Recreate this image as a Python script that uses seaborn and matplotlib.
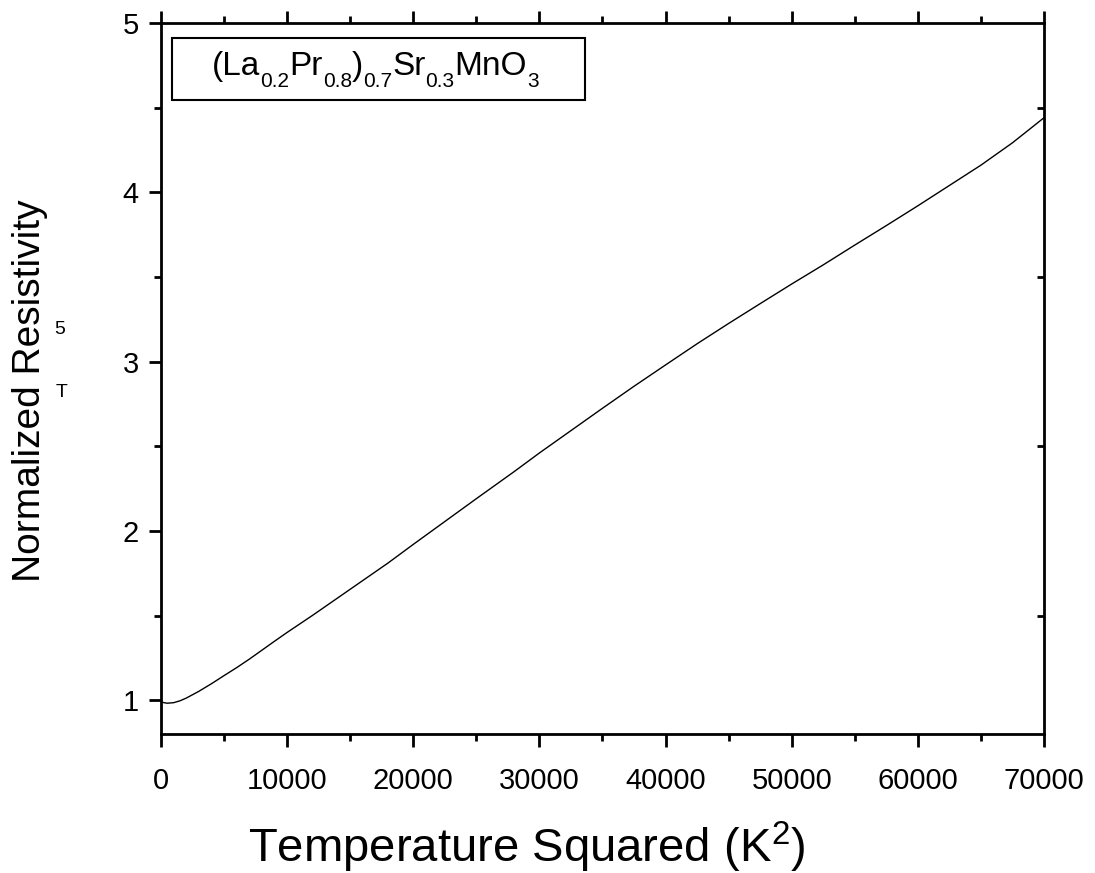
import numpy as np
import pandas as pd
import matplotlib
matplotlib.use("Agg")
import matplotlib.pyplot as plt
from matplotlib.patches import Rectangle
from matplotlib.ticker import MultipleLocator
import seaborn as sns

# Temperature squared (K^2) and normalized resistivity
temp_sq = [0, 250, 500, 1000, 1500, 2000, 3000, 4000, 5000, 6000, 7000, 8000,
           9000, 10000, 12000, 15000, 18000, 20000, 22500, 25000, 28000, 30000,
           32500, 35000, 37500, 40000, 42500, 45000, 47500, 50000, 52500,
           55000, 57500, 60000, 62500, 65000, 67500, 70000]
resistivity = [0.990, 0.985, 0.982, 0.985, 0.996, 1.012, 1.052, 1.097, 1.145,
               1.192, 1.242, 1.295, 1.348, 1.400, 1.500, 1.655, 1.810, 1.920,
               2.055, 2.190, 2.350, 2.460, 2.592, 2.724, 2.854, 2.980, 3.105,
               3.225, 3.342, 3.458, 3.571, 3.688, 3.803, 3.920, 4.040, 4.160,
               4.292, 4.440]

# sample formula split into regular and subscript pieces
formula_main = ["(La", "Pr", ")", "Sr", "MnO"]
formula_sub = ["0.2", "0.8", "0.7", "0.3", "3"]
x_label = r"Temperature Squared (K$\mathregular{^{2}}$)"
y_label = "Normalized Resistivity"

df = pd.DataFrame({"T2": temp_sq, "rho": resistivity})

sns.set_style("ticks")
plt.rcParams["font.family"] = ["Liberation Sans", "DejaVu Sans"]
plt.rcParams["mathtext.fontset"] = "custom"
plt.rcParams["mathtext.rm"] = "Liberation Sans"
for key in ["text.color", "axes.labelcolor", "xtick.color", "ytick.color",
            "axes.edgecolor"]:
    plt.rcParams[key] = "black"

fig = plt.figure(figsize=(10.95, 8.73), dpi=100)
ax = fig.add_axes([0.1470, 0.1592, 0.8064, 0.8145])

sns.lineplot(data=df, x="T2", y="rho", ax=ax, color="black", linewidth=1.0)

ax.set_xlim(0, 70000)
ax.set_ylim(0.8, 5.0)
ax.xaxis.set_major_locator(MultipleLocator(10000))
ax.xaxis.set_minor_locator(MultipleLocator(5000))
ax.yaxis.set_major_locator(MultipleLocator(1))
ax.yaxis.set_minor_locator(MultipleLocator(0.5))
ax.set_xlabel("")
ax.set_ylabel("")

for s in ax.spines.values():
    s.set_linewidth(2.0)
    s.set_visible(True)

ax.tick_params(which="major", direction="out", length=9, width=2.0,
               labelsize=21, top=True, right=False)
ax.tick_params(which="minor", direction="out", length=5, width=2.0,
               top=True, right=False)
ax.tick_params(axis="x", which="major", pad=15)
ax.tick_params(axis="y", which="major", pad=7)

# inward minor ticks on the right edge
ax2 = ax.twinx()
ax2.set_ylim(ax.get_ylim())
ax2.yaxis.set_major_locator(MultipleLocator(1))
ax2.yaxis.set_minor_locator(MultipleLocator(0.5))
ax2.tick_params(which="major", length=0, labelright=False)
ax2.tick_params(which="minor", direction="in", length=5, width=2.0)
for s in ax2.spines.values():
    s.set_visible(False)

# sample label box
ax.add_patch(Rectangle((0.0125, 0.8911), 0.4677, 0.0872, transform=ax.transAxes,
                       fill=False, edgecolor="black", linewidth=1.5, zorder=5))

# formula written piece by piece, subscripts dropped below the baseline
fig.canvas.draw()
renderer = fig.canvas.get_renderer()
W, H = fig.bbox.width, fig.bbox.height
x_px = 212.0
base_px = 75.0
for main, sub in zip(formula_main, formula_sub):
    t = fig.text(x_px / W, 1 - base_px / H, main, fontsize=24,
                 ha="left", va="baseline", zorder=6)
    x_px += t.get_window_extent(renderer).width
    t = fig.text(x_px / W, 1 - (base_px + 12) / H, sub, fontsize=15,
                 ha="left", va="baseline", zorder=6)
    x_px += t.get_window_extent(renderer).width

fig.text(527 / 1095, 1 - 847 / 873, x_label, fontsize=34, ha="center", va="center")
fig.text(30 / 1095, 1 - 391 / 873, y_label, fontsize=28, rotation=90,
         ha="center", va="center")
fig.text(60 / 1095, 1 - 329 / 873, "5", fontsize=14, ha="center", va="center")
fig.text(62 / 1095, 1 - 393 / 873, "T", fontsize=14, ha="center", va="center")

fig.savefig("out.png", dpi=100)
